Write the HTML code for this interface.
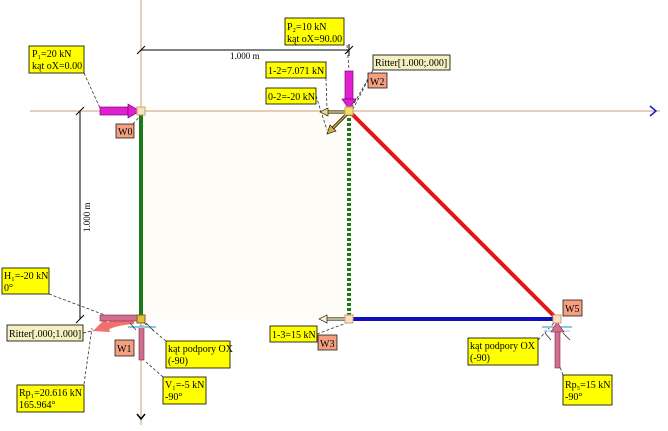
<!DOCTYPE html>
<html><head><meta charset="utf-8"><style>
html,body{margin:0;padding:0;background:#fff;}
svg{display:block;font-family:"Liberation Serif",serif;}
</style></head><body>
<svg width="668" height="431" viewBox="0 0 668 431" xmlns="http://www.w3.org/2000/svg">
<rect x="141" y="111" width="208" height="208" fill="#fdfcf6"/>
<polygon points="349,111 557,319 349,319" fill="#fefefe"/>
<line x1="30" y1="111" x2="660" y2="111" stroke="#c8a070" stroke-width="1"/>
<polyline points="650,106 656,111 650,116" fill="none" stroke="#1a1acc" stroke-width="1.5"/>
<line x1="141" y1="0" x2="141" y2="425" stroke="#c8a070" stroke-width="1"/>
<polyline points="137,414 141,419 145,414" fill="none" stroke="#000" stroke-width="1.5"/>
<line x1="141" y1="50" x2="349" y2="50" stroke="#000"/>
<line x1="137" y1="54" x2="145" y2="46" stroke="#000"/><line x1="345" y1="54" x2="353" y2="46" stroke="#000"/>
<line x1="349" y1="44" x2="349" y2="56" stroke="#000"/>
<text x="230" y="59" font-size="9">1.000 m</text>
<line x1="80" y1="111" x2="80" y2="319" stroke="#000"/>
<line x1="76" y1="115" x2="84" y2="107" stroke="#000"/><line x1="76" y1="323" x2="84" y2="315" stroke="#000"/>
<text x="0" y="0" font-size="9" transform="translate(90,232) rotate(-90)">1.000 m</text>
<line x1="141" y1="111" x2="141" y2="319" stroke="#1a7a1a" stroke-width="4"/>
<line x1="349" y1="111" x2="349" y2="319" stroke="#1a7a1a" stroke-width="4"/>
<line x1="349" y1="111" x2="349" y2="319" stroke="#f8f8f0" stroke-width="4" stroke-dasharray="2,3"/>
<line x1="349" y1="111" x2="557" y2="319" stroke="#e01818" stroke-width="4"/>
<line x1="349" y1="319" x2="557" y2="319" stroke="#1010c0" stroke-width="4"/>
<g stroke="#333" stroke-width="0.8" stroke-dasharray="3,2" fill="none">
<line x1="84" y1="73" x2="100" y2="108"/>
<line x1="133" y1="124" x2="140" y2="116"/>
<line x1="347" y1="45" x2="349" y2="70"/>
<line x1="326" y1="78" x2="327" y2="110"/>
<line x1="316" y1="96" x2="327" y2="130"/>
<line x1="373" y1="70" x2="352" y2="107"/>
<line x1="368" y1="80" x2="352" y2="111"/>
<line x1="49" y1="294" x2="110" y2="317"/>
<line x1="83" y1="333" x2="130" y2="322"/>
<line x1="84" y1="384" x2="92" y2="328"/>
<line x1="166" y1="341" x2="143" y2="322"/>
<line x1="163" y1="377" x2="146" y2="362"/>
<line x1="317" y1="334" x2="349" y2="322"/>
<line x1="538" y1="340" x2="555" y2="322"/>
<line x1="563" y1="375" x2="560" y2="367"/>
</g>
<rect x="100" y="107" width="28" height="8" fill="#e020d0" stroke="#800080" stroke-width="0.7"/>
<polygon points="128,104 140,111 128,118" fill="#e020d0" stroke="#800080" stroke-width="0.7"/>
<rect x="345" y="71" width="8" height="28" fill="#e020d0" stroke="#800080" stroke-width="0.7"/>
<polygon points="342,99 356,99 349,109" fill="#e020d0" stroke="#800080" stroke-width="0.7"/>
<line x1="348" y1="112" x2="323" y2="112" stroke="#000" stroke-width="3"/>
<line x1="348" y1="112" x2="323" y2="112" stroke="#f0d870" stroke-width="1.5"/>
<polygon points="320,112 328,108 328,116" fill="#f0d870" stroke="#000" stroke-width="0.6"/>
<line x1="348" y1="113" x2="330" y2="131" stroke="#000" stroke-width="3"/>
<line x1="348" y1="113" x2="330" y2="131" stroke="#d8b040" stroke-width="1.5"/>
<polygon points="327,134 330,125 336,131" fill="#d8b040" stroke="#000" stroke-width="0.6"/>
<line x1="348" y1="319" x2="323" y2="319" stroke="#000" stroke-width="3"/>
<line x1="348" y1="319" x2="323" y2="319" stroke="#f8f0c0" stroke-width="1.5"/>
<polygon points="319,319 327,315 327,323" fill="#f8f0c0" stroke="#000" stroke-width="0.6"/>
<path d="M134,318 Q115,318 104,324 L107,330 Q118,325 134,324 Z" fill="#f07070"/>
<polygon points="93,331 106,318 110,332" fill="#f07070"/>
<rect x="100" y="315" width="38" height="6" fill="#d07090" stroke="#802040" stroke-width="0.6"/>
<rect x="139" y="326" width="5" height="34" fill="#d07090" stroke="#802040" stroke-width="0.6"/>
<line x1="128" y1="327" x2="156" y2="327" stroke="#8ec8e0" stroke-width="2"/>
<g stroke="#333" stroke-width="0.8"><line x1="130" y1="323" x2="136" y2="330"/><line x1="146" y1="323" x2="154" y2="331"/></g>
<line x1="542" y1="327" x2="572" y2="327" stroke="#8ec8e0" stroke-width="2"/>
<line x1="544" y1="331" x2="570" y2="331" stroke="#8ec8e0" stroke-width="1"/>
<g stroke="#333" stroke-width="0.8"><line x1="545" y1="333" x2="551" y2="340"/><line x1="563" y1="333" x2="570" y2="340"/></g>
<rect x="555" y="330" width="5" height="38" fill="#d07090" stroke="#802040" stroke-width="0.6"/>
<polygon points="551,332 557,322 564,332" fill="#d07090" stroke="#802040" stroke-width="0.6"/>
<g stroke="#c8a070" stroke-width="1" fill="#fde0c0">
<rect x="137" y="107" width="8" height="8"/>
<rect x="345" y="107" width="8" height="8" fill="#f0e060"/>
<rect x="137" y="315" width="8" height="8" fill="#e0c030" stroke="#806020"/>
<rect x="345" y="315" width="8" height="8"/>
<rect x="553" y="315" width="8" height="8"/>
</g>
<g font-size="10" fill="#000">
<rect x="116" y="124" width="18" height="14" fill="#f4a080" stroke="#000" stroke-width="0.7"/><text x="118" y="135">W0</text>
<rect x="368" y="73" width="19" height="15" fill="#f4a080" stroke="#000" stroke-width="0.7"/><text x="370" y="85">W2</text>
<rect x="115" y="340" width="19" height="16" fill="#f4a080" stroke="#000" stroke-width="0.7"/><text x="117" y="352">W1</text>
<rect x="318" y="335" width="19" height="15" fill="#f4a080" stroke="#000" stroke-width="0.7"/><text x="320" y="347">W3</text>
<rect x="563" y="300" width="19" height="16" fill="#f4a080" stroke="#000" stroke-width="0.7"/><text x="565" y="312">W5</text>
</g>
<g font-size="10" fill="#000">
<rect x="29" y="46" width="55" height="27" fill="#ffff00" stroke="#000" stroke-width="0.8"/>
<text x="32" y="57">P₁=20 kN</text><text x="32" y="69">kąt oX=0.00</text>
<rect x="285" y="18" width="59" height="27" fill="#ffff00" stroke="#000" stroke-width="0.8"/>
<text x="287" y="30">P₂=10 kN</text><text x="287" y="42">kąt oX=90.00</text>
<rect x="266" y="62" width="60" height="16" fill="#ffff00" stroke="#000" stroke-width="0.8"/>
<text x="268" y="74">1-2=7.071 kN</text>
<rect x="266" y="88" width="50" height="16" fill="#ffff00" stroke="#000" stroke-width="0.8"/>
<text x="268" y="100">0-2=-20 kN</text>
<rect x="373" y="55" width="77" height="15" fill="#f4f0c0" stroke="#000" stroke-width="0.8"/>
<text x="375" y="66">Ritter[1.000;.000]</text>
<rect x="2" y="268" width="47" height="26" fill="#ffff00" stroke="#000" stroke-width="0.8"/>
<text x="4" y="279">H₁=-20 kN</text><text x="4" y="291">0°</text>
<rect x="7" y="325" width="76" height="16" fill="#f4f0c0" stroke="#000" stroke-width="0.8"/>
<text x="9" y="337">Ritter[.000;1.000]</text>
<rect x="166" y="341" width="64" height="27" fill="#ffff00" stroke="#000" stroke-width="0.8"/>
<text x="168" y="352">kąt podpory OX</text><text x="168" y="364">(-90)</text>
<rect x="163" y="377" width="43" height="27" fill="#ffff00" stroke="#000" stroke-width="0.8"/>
<text x="165" y="388">V₁=-5 kN</text><text x="165" y="400">-90°</text>
<rect x="17" y="385" width="67" height="27" fill="#ffff00" stroke="#000" stroke-width="0.8"/>
<text x="19" y="396">Rp₁=20.616 kN</text><text x="19" y="408">165.964°</text>
<rect x="270" y="326" width="47" height="16" fill="#ffff00" stroke="#000" stroke-width="0.8"/>
<text x="272" y="338">1-3=15 kN</text>
<rect x="468" y="338" width="70" height="27" fill="#ffff00" stroke="#000" stroke-width="0.8"/>
<text x="470" y="349">kąt podpory OX</text><text x="470" y="361">(-90)</text>
<rect x="563" y="375" width="49" height="30" fill="#ffff00" stroke="#000" stroke-width="0.8"/>
<text x="565" y="388">Rp₅=15 kN</text><text x="565" y="400">-90°</text>
</g>
</svg>
</body></html>
